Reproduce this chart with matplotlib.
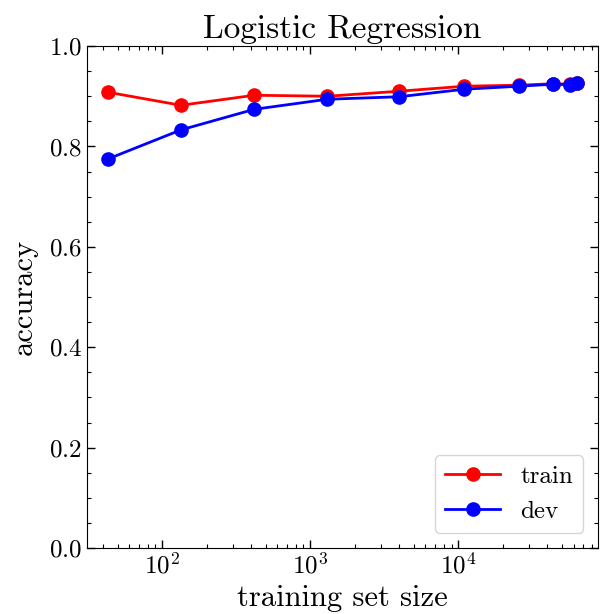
import matplotlib
matplotlib.use('Agg')
import matplotlib.pyplot as plt
from matplotlib.ticker import MultipleLocator

plt.rcParams['font.family'] = 'serif'
plt.rcParams['font.serif'] = ['cmr10']
plt.rcParams['mathtext.fontset'] = 'cm'
plt.rcParams['axes.formatter.use_mathtext'] = True

# training set sizes
sizes = [43, 134, 419, 1304, 3990, 10990, 25800, 43800, 57000, 63000]
train_acc = [0.908, 0.882, 0.902, 0.900, 0.910, 0.920, 0.922, 0.925, 0.924, 0.927]
dev_acc = [0.775, 0.833, 0.874, 0.894, 0.899, 0.914, 0.920, 0.924, 0.923, 0.926]

fig = plt.figure(figsize=(6.03, 6.14), dpi=100)
ax = fig.add_axes([0.144, 0.1075, 0.848, 0.8175])

ax.plot(sizes, train_acc, '-o', color='red', lw=2, ms=9.5, label='train')
ax.plot(sizes, dev_acc, '-o', color='blue', lw=2, ms=9.5, label='dev')

ax.set_xscale('log')
ax.set_xlim(31, 88000)
ax.set_ylim(0, 1.0)
ax.yaxis.set_major_locator(MultipleLocator(0.2))
ax.yaxis.set_minor_locator(MultipleLocator(0.05))
ax.tick_params(which='both', direction='in', top=True, right=True, labelsize=18)
ax.tick_params(which='major', length=6, width=1)
ax.tick_params(which='minor', length=3, width=0.8)

ax.set_title('Logistic Regression', fontsize=24, pad=6)
ax.set_xlabel('training set size', fontsize=22, labelpad=4)
ax.set_ylabel('accuracy', fontsize=22, labelpad=8)
ax.legend(loc='lower right', fontsize=18, fancybox=True, framealpha=0.8,
          handlelength=2.2, borderaxespad=0.6)

fig.savefig('out.png', dpi=100)
